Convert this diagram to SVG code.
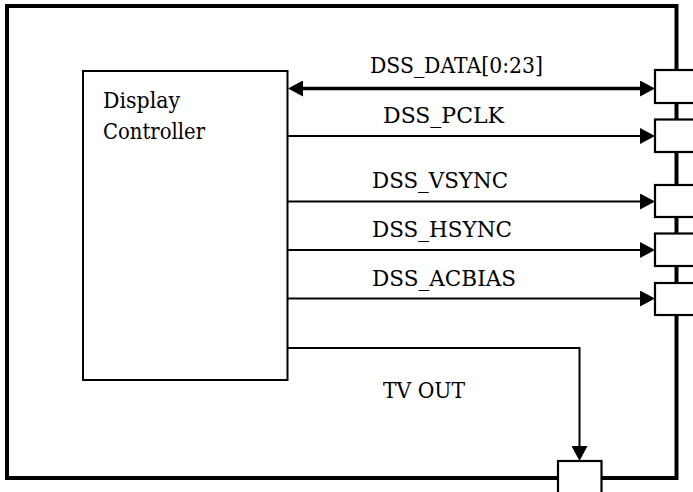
<svg xmlns="http://www.w3.org/2000/svg" width="693" height="492" viewBox="0 0 693 492">
<style>
.frame{fill:none;stroke:#000;stroke-width:4}
.blk{fill:#fff;stroke:#000;stroke-width:2}
.pin{fill:#fff;stroke:#000;stroke-width:2.2}
.lbl{font-family:"DejaVu Serif",serif;font-size:22.5px;fill:#000}
.sig{fill:none;stroke:#000;stroke-width:2}
.bus{fill:none;stroke:#000;stroke-width:3.6}
</style>
<defs>
<marker id="ah" markerUnits="userSpaceOnUse" markerWidth="16" markerHeight="16" refX="0" refY="8" orient="auto-start-reverse" viewBox="0 0 16 16">
<path d="M0,0 L15,8 L0,16 z" fill="#000"/>
</marker>
</defs>
<g id="chip">
<rect class="frame" x="7" y="6" width="669.5" height="472"/>
</g>
<g id="display-controller">
<rect class="blk" x="83" y="71" width="204.5" height="309"/>
<text class="lbl" x="103" y="108" textLength="77" lengthAdjust="spacingAndGlyphs">Display</text>
<text class="lbl" x="103" y="139" textLength="102" lengthAdjust="spacingAndGlyphs">Controller</text>
</g>
<g id="connectors">
<line class="bus" x1="303" y1="88.5" x2="640" y2="88.5" marker-start="url(#ah)" marker-end="url(#ah)"/>
<line class="sig" x1="287.5" y1="136" x2="640" y2="136" marker-end="url(#ah)"/>
<line class="sig" x1="287.5" y1="201.5" x2="640" y2="201.5" marker-end="url(#ah)"/>
<line class="sig" x1="287.5" y1="250" x2="640" y2="250" marker-end="url(#ah)"/>
<line class="sig" x1="287.5" y1="298.5" x2="640" y2="298.5" marker-end="url(#ah)"/>
<path class="sig" d="M287.5,348 H579.5 V446" marker-end="url(#ah)"/>
<text class="lbl" x="370" y="73" textLength="173" lengthAdjust="spacingAndGlyphs">DSS_DATA[0:23]</text>
<text class="lbl" x="383" y="123" textLength="121" lengthAdjust="spacingAndGlyphs">DSS_PCLK</text>
<text class="lbl" x="372" y="188" textLength="136" lengthAdjust="spacingAndGlyphs">DSS_VSYNC</text>
<text class="lbl" x="372" y="237" textLength="140" lengthAdjust="spacingAndGlyphs">DSS_HSYNC</text>
<text class="lbl" x="372" y="286" textLength="144" lengthAdjust="spacingAndGlyphs">DSS_ACBIAS</text>
<text class="lbl" x="383" y="398" textLength="82" lengthAdjust="spacingAndGlyphs">TV OUT</text>
</g>
<g id="pin-data"><rect class="pin" x="655" y="70" width="50" height="33"/></g>
<g id="pin-pclk"><rect class="pin" x="655" y="119.5" width="50" height="32.5"/></g>
<g id="pin-vsync"><rect class="pin" x="655" y="185" width="50" height="32"/></g>
<g id="pin-hsync"><rect class="pin" x="655" y="233.5" width="50" height="32.5"/></g>
<g id="pin-acbias"><rect class="pin" x="655" y="283" width="50" height="32"/></g>
<g id="pin-tvout"><rect class="pin" x="558" y="461" width="43.5" height="50"/></g>
</svg>
